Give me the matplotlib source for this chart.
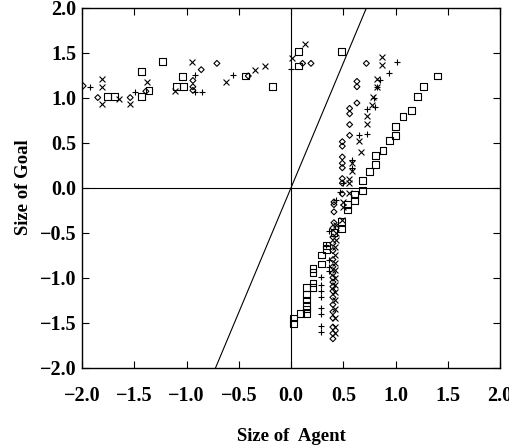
import matplotlib
matplotlib.use("Agg")
import numpy as np
import matplotlib.pyplot as plt

plt.rcParams['font.family'] = ['Liberation Serif', 'DejaVu Serif']
plt.rcParams['font.weight'] = 'bold'

# square series
sq_x = [-1.76, -1.69, -1.43, -1.43, -1.36, -1.23, -1.10, -1.03, -1.04, -0.44, -0.18, 0.07, 0.07, 0.48,
        1.40, 1.27, 1.21, 1.15, 1.07, 1.00, 1.00, 0.94, 0.88, 0.81, 0.81, 0.75, 0.68, 0.68, 0.61, 0.61,
        0.54, 0.54, 0.48, 0.48, 0.41, 0.34, 0.34, 0.29, 0.29, 0.21, 0.21, 0.21, 0.21, 0.15, 0.15, 0.15,
        0.15, 0.15, 0.15, 0.09, 0.02, 0.02]
sq_y = [1.01, 1.01, 1.29, 1.01, 1.08, 1.40, 1.12, 1.12, 1.23, 1.24, 1.12, 1.51, 1.35, 1.51,
        1.24, 1.12, 1.01, 0.86, 0.79, 0.68, 0.58, 0.52, 0.41, 0.36, 0.26, 0.18, 0.08, -0.03, -0.08, -0.14,
        -0.19, -0.25, -0.38, -0.46, -0.50, -0.64, -0.69, -0.75, -0.85, -0.90, -0.94, -1.06, -1.11, -1.11, -1.19, -1.25,
        -1.31, -1.35, -1.40, -1.40, -1.45, -1.51]

# diamond series
dm_x = [-1.99, -1.85, -1.54, -1.39, -0.94, -0.94, -0.94, -0.86, -0.71, -0.41, 0.11, 0.19,
        0.72, 0.63, 0.63, 0.63, 0.56, 0.56, 0.56, 0.56, 0.49, 0.49, 0.49, 0.49, 0.49, 0.49, 0.49, 0.49,
        0.41, 0.41, 0.41, 0.41, 0.40, 0.40, 0.40, 0.40, 0.40, 0.40, 0.40, 0.40, 0.40, 0.40, 0.40, 0.40,
        0.40, 0.40, 0.40, 0.40, 0.40, 0.40]
dm_y = [1.13, 1.00, 1.00, 1.07, 1.19, 1.12, 1.08, 1.31, 1.38, 1.24, 1.38, 1.38,
        1.38, 1.18, 1.12, 0.94, 0.88, 0.82, 0.70, 0.58, 0.51, 0.46, 0.34, 0.27, 0.22, 0.10, 0.05, -0.07,
        -0.16, -0.19, -0.27, -0.39, -0.45, -0.55, -0.62, -0.70, -0.80, -0.88, -0.95, -1.00, -1.05, -1.10, -1.15, -1.22,
        -1.30, -1.38, -1.45, -1.55, -1.62, -1.68]

# cross series
cx_x = [-1.81, -1.81, -1.81, -1.65, -1.54, -1.38, -1.11, -0.95, -0.62, -0.35, -0.25, 0.01, 0.13,
        0.87, 0.87, 0.82, 0.82, 0.78, 0.77, 0.73, 0.73, 0.65, 0.67, 0.58, 0.58, 0.55, 0.55, 0.55, 0.50, 0.50,
        0.49, 0.43, 0.43, 0.43, 0.42, 0.42, 0.42, 0.42, 0.42, 0.42, 0.42, 0.42, 0.42, 0.42, 0.42, 0.42]
cx_y = [1.21, 1.12, 0.93, 0.98, 0.93, 1.17, 1.07, 1.40, 1.17, 1.31, 1.35, 1.44, 1.59,
        1.45, 1.36, 1.21, 1.12, 1.01, 0.92, 0.79, 0.71, 0.52, 0.39, 0.27, 0.18, 0.09, 0.05, -0.06, -0.16, -0.22,
        -0.36, -0.42, -0.50, -0.58, -0.66, -0.75, -0.84, -0.92, -1.00, -1.08, -1.16, -1.25, -1.35, -1.45, -1.55, -1.62]

# plus series
pl_x = [-1.92, -1.49, -0.92, -0.92, -0.85, -0.56, 0.0,
        1.01, 0.94, 0.85, 0.82, 0.79, 0.80, 0.73, 0.73, 0.65, 0.58, 0.58, 0.50, 0.47, 0.43,
        0.36, 0.33, 0.36, 0.36, 0.36, 0.29, 0.29, 0.29, 0.29, 0.29, 0.29, 0.29, 0.29]
pl_y = [1.12, 1.06, 1.25, 1.06, 1.06, 1.25, 1.32,
        1.39, 1.27, 1.19, 1.12, 0.99, 0.90, 0.87, 0.60, 0.58, 0.31, 0.22, 0.05, -0.05, -0.14,
        -0.48, -0.64, -0.80, -0.88, -0.93, -0.99, -1.08, -1.15, -1.22, -1.34, -1.41, -1.54, -1.61]

ticks = [-2.0, -1.5, -1.0, -0.5, 0.0, 0.5, 1.0, 1.5, 2.0]
tick_labels = ['\u22122.0', '\u22121.5', '\u22121.0', '\u22120.5', '0.0', '0.5', '1.0', '1.5', '2.0']

fig = plt.figure(figsize=(5.10, 4.45), dpi=100)
ax = fig.add_axes([0.161, 0.174, 0.8196, 0.8090])

ax.axhline(0, color='black', lw=0.8)
ax.axvline(0, color='black', lw=0.8)
xs = np.array([-0.8, 0.8])
ax.plot(xs, 2.77 * xs, color='black', lw=0.8)

ax.scatter(sq_x, sq_y, marker='s', s=24, facecolors='none', edgecolors='black', linewidths=0.8)
ax.scatter(dm_x, dm_y, marker='D', s=9, facecolors='none', edgecolors='black', linewidths=0.8)
ax.scatter(cx_x, cx_y, marker='x', s=18, color='black', linewidths=0.8)
ax.scatter(pl_x, pl_y, marker='+', s=20, color='black', linewidths=0.8)

ax.set_xlim(-2, 2)
ax.set_ylim(-2, 2)
ax.set_xticks(ticks)
ax.set_yticks(ticks)
ax.set_xticklabels(tick_labels)
ax.set_yticklabels(tick_labels)
ax.tick_params(direction='in', top=True, right=True, length=5, width=0.8,
               labelsize=14.5)
ax.tick_params(axis='x', pad=13)
ax.tick_params(axis='y', pad=4)
for s in ax.spines.values():
    s.set_linewidth(1.0)

ax.set_xlabel('Size of  Agent', fontsize=13.5, fontweight='bold', labelpad=16)
ax.set_ylabel('Size of Goal', fontsize=13.5, fontweight='bold', labelpad=6)

fig.savefig('out.png', dpi=100)
